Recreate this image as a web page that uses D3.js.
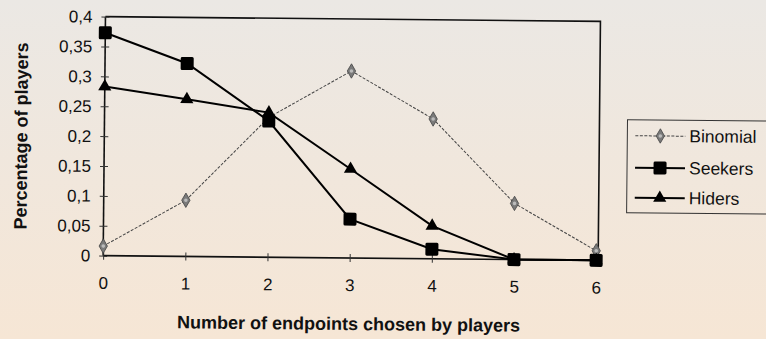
<!DOCTYPE html>
<html>
<head>
<meta charset="utf-8">
<script src="https://cdn.jsdelivr.net/npm/d3@7"></script>
<style>
  html, body { margin: 0; padding: 0; }
  svg { display: block; font-family: "Liberation Sans", Arial, sans-serif; }
</style>
</head>
<body>
<div id="chart"></div>
<script>
// data
const endpoints = [0, 1, 2, 3, 4, 5, 6];
const binomial = [0.016, 0.094, 0.234, 0.313, 0.234, 0.094, 0.016];
const seekers = [0.373, 0.323, 0.228, 0.065, 0.016, 0, 0];
const hiders = [0.283, 0.263, 0.242, 0.149, 0.055, 0, 0];
const yTicks = [0, 0.05, 0.1, 0.15, 0.2, 0.25, 0.3, 0.35, 0.4];
const seriesNames = ["Binomial", "Seekers", "Hiders"];

const W = 766, H = 339;
const FONT = "Liberation Sans, Arial, sans-serif";
const svg = d3.select("#chart").append("svg")
    .attr("width", W)
    .attr("height", H);

// background gradient, greyish at top, peach at bottom
const grad = svg.append("defs").append("linearGradient")
    .attr("id", "bg").attr("x1", 0).attr("y1", 0).attr("x2", 0).attr("y2", 1);
grad.append("stop").attr("offset", "0%").attr("stop-color", "#ebe8e4");
grad.append("stop").attr("offset", "100%").attr("stop-color", "#f6e6d5");
svg.append("rect").attr("width", W).attr("height", H).attr("fill", "url(#bg)");

// the scan is slightly tilted
const root = svg.append("g").attr("transform", "rotate(0.55,350,170)");

const x = d3.scaleLinear().domain([0, 6]).range([104, 597]);
const y = d3.scaleLinear().domain([0, 0.4]).range([258, 19]);

// plot frame (top + right)
root.append("path")
    .attr("d", `M${x(0)},${y(0.4)}H${x(6) + 2}V${y(0)}`)
    .attr("fill", "none").attr("stroke", "#111").attr("stroke-width", 1.6);

// y axis
const yAxis = root.append("g").attr("transform", `translate(${x(0)},0)`)
    .call(d3.axisLeft(y).tickValues(yTicks).tickSize(4)
        .tickFormat(d => d3.format("")(d).replace(".", ",")));
yAxis.attr("font-size", null).attr("font-family", null);
yAxis.select(".domain").attr("stroke", "#111").attr("stroke-width", 1.6).attr("d", `M0,${y(0.4)}V${y(0)}`);
yAxis.selectAll(".tick line").attr("x1", 4).attr("x2", -4).attr("stroke", "#333");
yAxis.selectAll(".tick text").attr("x", -13).attr("fill", "#111")
    .style("font-size", "17px").style("font-family", FONT);

// x axis
const xAxis = root.append("g").attr("transform", `translate(0,${y(0)})`)
    .call(d3.axisBottom(x).tickValues(endpoints).tickSize(4).tickFormat(d3.format("d")));
xAxis.attr("font-size", null).attr("font-family", null);
xAxis.select(".domain").attr("stroke", "#111").attr("stroke-width", 1.6).attr("d", `M${x(0)},0H${x(6) + 2}`);
xAxis.selectAll(".tick line").attr("y1", -4).attr("y2", 4).attr("stroke", "#333");
xAxis.selectAll(".tick text").attr("y", 21).attr("fill", "#111")
    .style("font-size", "17px").style("font-family", FONT);

// axis titles
root.append("text")
    .attr("x", 350).attr("y", 330)
    .attr("text-anchor", "middle")
    .style("font-size", "18px").attr("font-weight", "bold").attr("fill", "#111")
    .text("Number of endpoints chosen by players");
root.append("text")
    .attr("transform", "translate(27,139) rotate(-90)")
    .attr("text-anchor", "middle")
    .style("font-size", "18px").attr("font-weight", "bold").attr("fill", "#111")
    .text("Percentage of players");

const line = d3.line().x((d, i) => x(endpoints[i])).y(d => y(d));

// markers
function diamond(g, cx, cy) {
    g.append("path")
        .attr("d", d3.symbol(d3.symbolDiamond, 60)())
        .attr("transform", `translate(${cx},${cy})`)
        .attr("fill", "#7a7a7a").attr("stroke", "#444").attr("stroke-width", 0.8);
    g.append("circle").attr("cx", cx).attr("cy", cy).attr("r", 1.8)
        .attr("fill", "#bbb");
}
function square(g, cx, cy) {
    g.append("rect").attr("x", cx - 6.5).attr("y", cy - 6.5)
        .attr("width", 13).attr("height", 13).attr("rx", 1.5).attr("fill", "#000");
}
function triangle(g, cx, cy) {
    g.append("path")
        .attr("d", d3.symbol(d3.symbolTriangle, 75)())
        .attr("transform", `translate(${cx},${cy})`)
        .attr("fill", "#000");
}

// Binomial: thin grey dotted
root.append("path").datum(binomial).attr("d", line)
    .attr("fill", "none").attr("stroke", "#444").attr("stroke-width", 1)
    .attr("stroke-dasharray", "3,1.5");
// Seekers and Hiders
root.append("path").datum(seekers).attr("d", line)
    .attr("fill", "none").attr("stroke", "#000").attr("stroke-width", 2);
root.append("path").datum(hiders).attr("d", line)
    .attr("fill", "none").attr("stroke", "#000").attr("stroke-width", 2);

const gb = root.append("g");
binomial.forEach((d, i) => diamond(gb, x(endpoints[i]), y(d)));
const gh = root.append("g");
hiders.forEach((d, i) => triangle(gh, x(endpoints[i]), y(d)));
const gs = root.append("g");
seekers.forEach((d, i) => square(gs, x(endpoints[i]), y(d)));

// legend
const lg = root.append("g");
lg.append("rect").attr("x", 627).attr("y", 117).attr("width", 145).attr("height", 93)
    .attr("fill", "none").attr("stroke", "#333").attr("stroke-width", 1);
const legendY = [133, 165, 195];
const drawers = [diamond, square, triangle];
seriesNames.forEach((name, i) => {
    const ly = legendY[i];
    lg.append("line").attr("x1", 635).attr("x2", 685).attr("y1", ly).attr("y2", ly)
        .attr("stroke", i === 0 ? "#444" : "#000")
        .attr("stroke-width", i === 0 ? 1 : 2)
        .attr("stroke-dasharray", i === 0 ? "3,1.5" : null);
    drawers[i](lg, 660, ly);
    lg.append("text").attr("x", 689).attr("y", ly + 6)
        .style("font-size", "17.5px").attr("fill", "#111").text(name);
});
</script>
</body>
</html>
